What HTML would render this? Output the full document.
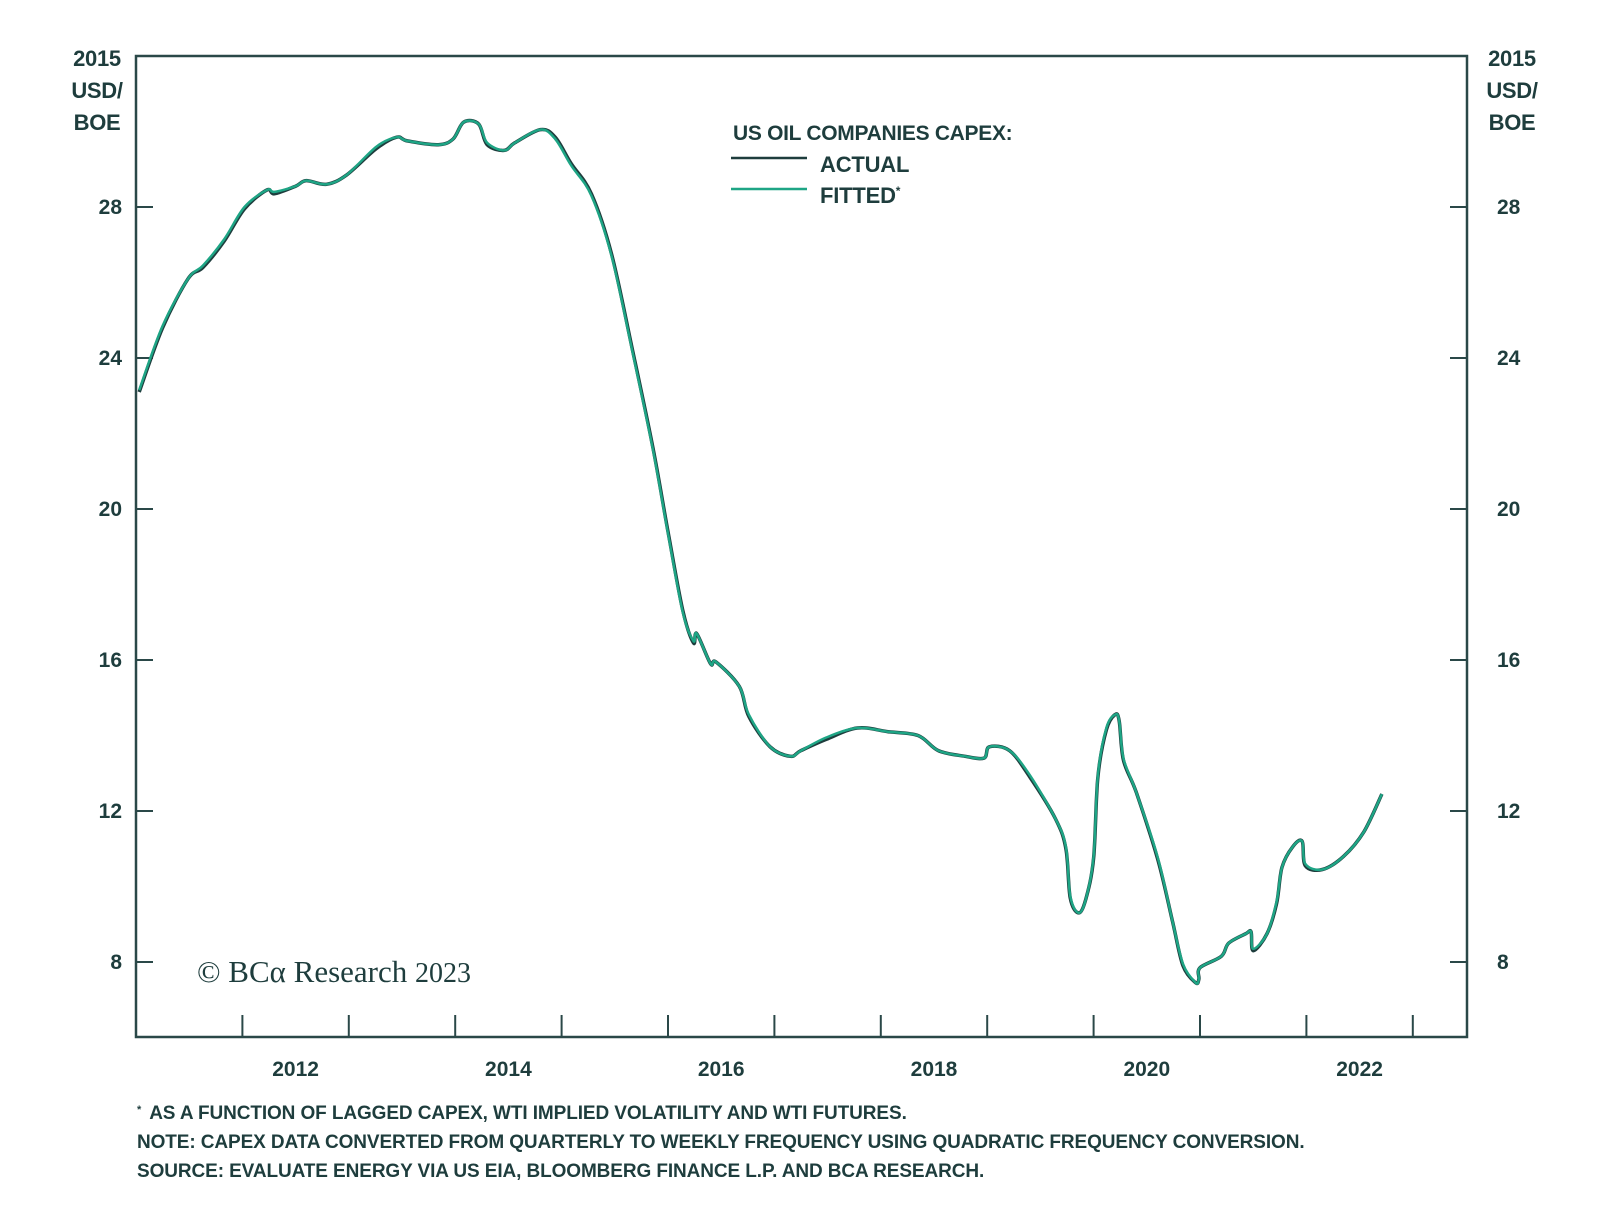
<!DOCTYPE html>
<html><head><meta charset="utf-8"><style>
body{margin:0;background:#fff}
svg{display:block}
text{font-family:"Liberation Sans",sans-serif;fill:#1e3d3d}
</style></head><body>
<svg id="chart" width="1600" height="1223" viewBox="0 0 1600 1223" xmlns="http://www.w3.org/2000/svg">
<rect x="0" y="0" width="1600" height="1223" fill="#fff"/>
<g id="axes"></g>
<g id="series"></g>
<g>
<text x="733" y="140" font-size="21" font-weight="bold" letter-spacing="-0.3">US OIL COMPANIES CAPEX:</text>
<line x1="731" y1="158" x2="807" y2="158" stroke="#1e3d3d" stroke-width="2.5"/>
<text x="820" y="172" font-size="22" font-weight="bold" letter-spacing="-0.2">ACTUAL</text>
<line x1="731" y1="189" x2="807" y2="189" stroke="#1ea585" stroke-width="2.5"/>
<text x="820" y="203" font-size="22" font-weight="bold" letter-spacing="-0.2">FITTED<tspan font-size="12" dy="-8">*</tspan></text>
</g>
<text x="197" y="982" font-size="31" style="font-family:'Liberation Serif',serif">© BCα Research <tspan font-size="28">2023</tspan></text>
<text x="97" y="66" font-size="22" font-weight="bold" text-anchor="middle" letter-spacing="-0.3">2015</text>
<text x="97" y="98" font-size="22" font-weight="bold" text-anchor="middle" letter-spacing="-0.3">USD/</text>
<text x="97" y="130" font-size="22" font-weight="bold" text-anchor="middle" letter-spacing="-0.3">BOE</text>
<text x="1512" y="66" font-size="22" font-weight="bold" text-anchor="middle" letter-spacing="-0.3">2015</text>
<text x="1512" y="98" font-size="22" font-weight="bold" text-anchor="middle" letter-spacing="-0.3">USD/</text>
<text x="1512" y="130" font-size="22" font-weight="bold" text-anchor="middle" letter-spacing="-0.3">BOE</text>
<g font-size="19" font-weight="bold" letter-spacing="-0.1">
<text x="137" y="1119"><tspan font-size="11" dy="-6">*</tspan><tspan dy="6" dx="8">AS A FUNCTION OF LAGGED CAPEX, WTI IMPLIED VOLATILITY AND WTI FUTURES.</tspan></text>
<text x="137" y="1148">NOTE: CAPEX DATA CONVERTED FROM QUARTERLY TO WEEKLY FREQUENCY USING QUADRATIC FREQUENCY CONVERSION.</text>
<text x="137" y="1177">SOURCE: EVALUATE ENERGY VIA US EIA, BLOOMBERG FINANCE L.P. AND BCA RESEARCH.</text>
</g>
</svg>
<script>
const yTicks = [8, 12, 16, 20, 24, 28];
const xTickYears = [2012,2013,2014,2015,2016,2017,2018,2019,2020,2021,2022,2023];
const xLabels = [2012, 2014, 2016, 2018, 2020, 2022];
const dates = [2011.03,2011.25,2011.49,2011.63,2011.83,2012.02,2012.23,2012.3,2012.5,2012.6,2012.79,2012.98,2013.26,2013.45,2013.55,2013.84,2013.98,2014.08,2014.22,2014.3,2014.46,2014.56,2014.8,2014.94,2015.09,2015.28,2015.47,2015.66,2015.86,2016.0,2016.14,2016.24,2016.27,2016.4,2016.45,2016.67,2016.76,2016.96,2017.15,2017.25,2017.49,2017.78,2018.07,2018.35,2018.54,2018.79,2018.97,2019.02,2019.21,2019.4,2019.64,2019.74,2019.78,2019.86,2019.93,2020.0,2020.04,2020.12,2020.2,2020.24,2020.28,2020.4,2020.6,2020.74,2020.84,2020.96,2020.99,2021.0,2021.2,2021.27,2021.43,2021.48,2021.5,2021.63,2021.72,2021.77,2021.87,2021.96,2021.99,2022.15,2022.35,2022.54,2022.71];
const actual = [23.1,24.8,26.1,26.4,27.1,27.95,28.45,28.35,28.55,28.7,28.6,28.85,29.55,29.85,29.75,29.65,29.8,30.25,30.2,29.65,29.5,29.7,30.05,29.85,29.15,28.35,26.75,24.3,21.6,19.4,17.3,16.45,16.7,15.9,15.95,15.3,14.5,13.7,13.45,13.6,13.9,14.2,14.1,14.0,13.6,13.45,13.4,13.7,13.6,12.9,11.8,11.0,9.7,9.3,9.7,10.75,12.9,14.15,14.55,14.4,13.35,12.5,10.75,9.1,7.9,7.45,7.55,7.85,8.15,8.5,8.75,8.8,8.3,8.75,9.55,10.5,11.05,11.2,10.55,10.45,10.8,11.45,12.45];
const fitted = [23.15,24.85,26.1,26.45,27.15,28.0,28.45,28.4,28.55,28.7,28.6,28.85,29.6,29.85,29.75,29.65,29.8,30.25,30.2,29.7,29.5,29.7,30.05,29.8,29.1,28.3,26.7,24.25,21.55,19.35,17.25,16.5,16.7,15.9,15.95,15.3,14.55,13.7,13.45,13.6,13.95,14.2,14.1,14.0,13.6,13.45,13.4,13.7,13.6,12.95,11.8,11.05,9.75,9.3,9.7,10.8,12.95,14.2,14.55,14.4,13.4,12.5,10.8,9.1,7.95,7.45,7.55,7.85,8.15,8.5,8.75,8.8,8.35,8.75,9.6,10.5,11.05,11.2,10.6,10.45,10.8,11.45,12.45];

const NS='http://www.w3.org/2000/svg';
const L=136, R=1467, T=56, B=1037;
function xs(yr){return 136+(yr-2011)*106.4;}
function ys(v){return 207+(28-v)*37.75;}
function mk(tag, attrs, parent){const e=document.createElementNS(NS,tag);for(const k in attrs)e.setAttribute(k,attrs[k]);parent.appendChild(e);return e;}
const ax=document.getElementById('axes');
const C='#2a4848';
const frame=mk('rect',{x:L,y:T,width:R-L,height:B-T,fill:'none',stroke:C,'stroke-width':2.5},ax);


yTicks.forEach(v=>{
  const y=ys(v);
  const t1=mk('line',{x1:L,x2:L+17,y1:y,y2:y,stroke:C,'stroke-width':2},ax);
  
  
  const t2=mk('line',{x1:R-17,x2:R,y1:y,y2:y,stroke:C,'stroke-width':2},ax);
  
  
  const l1=mk('text',{x:122,y:y+7,'font-size':21,'font-weight':'bold','text-anchor':'end'},ax);
  l1.textContent=v;
  
  
  const l2=mk('text',{x:1497,y:y+7,'font-size':21,'font-weight':'bold'},ax);
  l2.textContent=v;
  
  
});
xTickYears.forEach(yr=>{
  const x=xs(yr);
  const t=mk('line',{x1:x,x2:x,y1:B-22,y2:B,stroke:C,'stroke-width':2},ax);
  
  
});
xLabels.forEach(yr=>{
  const l=mk('text',{x:xs(yr+0.5),y:1076,'font-size':21,'font-weight':'bold','text-anchor':'middle'},ax);
  l.textContent=yr;
  
  
});
const sg=document.getElementById('series');
function path(vals){
  const p=vals.map((v,i)=>[xs(dates[i]),ys(v)]);
  let d='M'+p[0][0].toFixed(1)+','+p[0][1].toFixed(1);
  for(let i=0;i<p.length-1;i++){
    const p0=p[Math.max(0,i-1)],p1=p[i],p2=p[i+1],p3=p[Math.min(p.length-1,i+2)];
    const c1=[p1[0]+(p2[0]-p0[0])/6,p1[1]+(p2[1]-p0[1])/6];
    const c2=[p2[0]-(p3[0]-p1[0])/6,p2[1]-(p3[1]-p1[1])/6];
    d+=' C'+c1[0].toFixed(1)+','+c1[1].toFixed(1)+' '+c2[0].toFixed(1)+','+c2[1].toFixed(1)+' '+p2[0].toFixed(1)+','+p2[1].toFixed(1);
  }
  return d;
}
const pa=mk('path',{d:path(actual),fill:'none',stroke:'#1e3d3d','stroke-width':3.5,'stroke-linejoin':'round'},sg);


const pf=mk('path',{d:path(fitted),fill:'none',stroke:'#1ea585','stroke-width':2.5,'stroke-linejoin':'round'},sg);


</script>
</body></html>
